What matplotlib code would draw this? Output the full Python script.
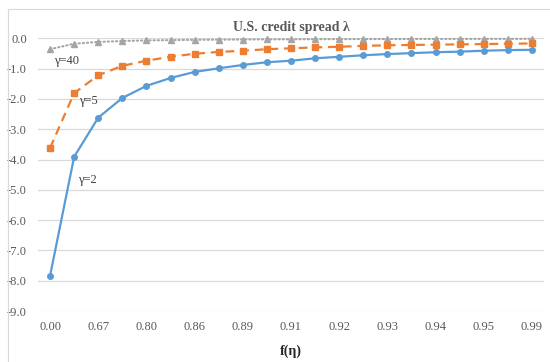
import matplotlib.pyplot as plt
import matplotlib.patches as patches

plt.rcParams['font.family'] = ['Liberation Serif', 'DejaVu Serif']

# f(eta) labels shown on the category axis (every other point)
tick_labels = ["0.00", "0.67", "0.80", "0.86", "0.89", "0.91",
               "0.92", "0.93", "0.94", "0.95", "0.99"]

# credit spread lambda for each gamma, 21 points each
spread_g2 = [-7.84, -3.91, -2.62, -1.97, -1.57, -1.31, -1.11, -0.99, -0.88, -0.79,
             -0.74, -0.66, -0.61, -0.56, -0.52, -0.49, -0.46, -0.44, -0.41, -0.39, -0.38]
spread_g5 = [-3.62, -1.81, -1.22, -0.91, -0.74, -0.61, -0.51, -0.45, -0.41, -0.36,
             -0.33, -0.30, -0.28, -0.25, -0.23, -0.22, -0.21, -0.20, -0.19, -0.18, -0.17]
spread_g40 = [-0.36, -0.18, -0.12, -0.09, -0.07, -0.06, -0.05, -0.045, -0.04, -0.036,
              -0.033, -0.03, -0.028, -0.026, -0.024, -0.022, -0.021, -0.02, -0.019, -0.018, -0.017]

x = list(range(len(spread_g2)))

fig = plt.figure(figsize=(5.5, 3.62), dpi=100)
ax = fig.add_axes([38/550, 51/362, 506/550, 272.7/362])

# light frame around the chart
fig.patches.append(patches.Rectangle((8/550, -0.1), 1.2, 1.1 - 9/362,
                                     transform=fig.transFigure, fill=False,
                                     edgecolor='#d9d9d9', linewidth=0.8))

ax.plot(x, spread_g40, color='#a5a5a5', linestyle=(0, (0.6, 1.4)), linewidth=1.5,
        dash_capstyle='round', marker='^', markersize=4.5, clip_on=False, zorder=3)
ax.plot(x, spread_g5, color='#ed7d31', linestyle=(0, (4, 2.6)), linewidth=1.6,
        marker='s', markersize=4.3, clip_on=False, zorder=3)
ax.plot(x, spread_g2, color='#5b9bd5', linestyle='-', linewidth=1.6,
        marker='o', markersize=4, clip_on=False, zorder=3)

ax.set_xlim(-0.5, len(x) - 0.5)
ax.set_ylim(-9, 0)
ax.set_yticks([0, -1, -2, -3, -4, -5, -6, -7, -8, -9])
ax.set_yticklabels(["%.1f" % v for v in [0, -1, -2, -3, -4, -5, -6, -7, -8, -9]])
ax.set_xticks(range(0, len(x), 2))
ax.set_xticklabels(tick_labels)

ax.grid(axis='y', color='#d9d9d9', linewidth=0.9)
ax.set_axisbelow(True)
for s in ax.spines.values():
    s.set_visible(False)
ax.tick_params(length=0, labelsize=9, colors='#595959')
ax.tick_params(axis='x', pad=7)
ax.tick_params(axis='y', pad=8)

ax.set_title("U.S. credit spread λ", fontsize=10, fontweight='bold',
             color='#595959', pad=5)
fig.text(291/550, 1 - 351/362, "f(η)", fontsize=10, fontweight='bold',
         color='#262626', ha='center', va='center')

ax.text(0.15, -0.75, "γ=40", fontsize=9, color='#404040', va='center')
ax.text(1.2, -2.08, "γ=5", fontsize=9, color='#404040', va='center')
ax.text(1.17, -4.68, "γ=2", fontsize=9, color='#404040', va='center')

plt.savefig("out.png", dpi=100)
